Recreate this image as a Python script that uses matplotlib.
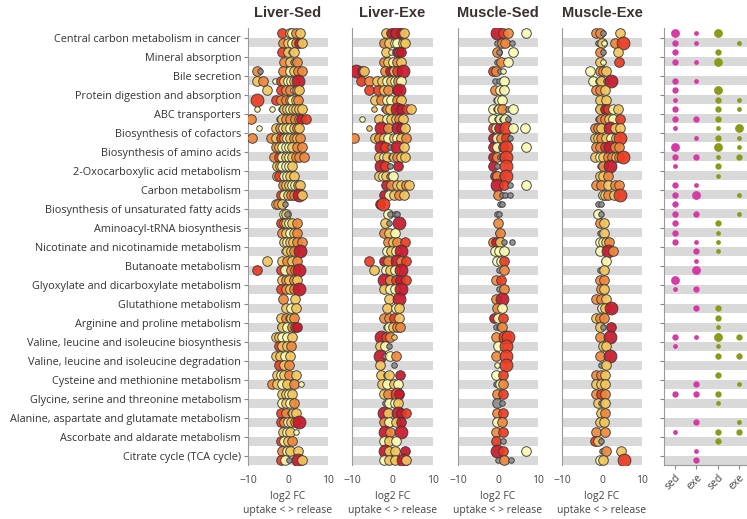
import matplotlib.pyplot as plt

pathways = [
    "Central carbon metabolism in cancer", "Mineral absorption", "Bile secretion",
    "Protein digestion and absorption", "ABC transporters", "Biosynthesis of cofactors",
    "Biosynthesis of amino acids", "2-Oxocarboxylic acid metabolism", "Carbon metabolism",
    "Biosynthesis of unsaturated fatty acids", "Aminoacyl-tRNA biosynthesis",
    "Nicotinate and nicotinamide metabolism", "Butanoate metabolism",
    "Glyoxylate and dicarboxylate metabolism", "Glutathione metabolism",
    "Arginine and proline metabolism", "Valine, leucine and isoleucine biosynthesis",
    "Valine, leucine and isoleucine degradation", "Cysteine and methionine metabolism",
    "Glycine, serine and threonine metabolism", "Alanine, aspartate and glutamate metabolism",
    "Ascorbate and aldarate metabolism", "Citrate cycle (TCA cycle)",
]
panel_titles = ["Liver-Sed", "Liver-Exe", "Muscle-Sed", "Muscle-Exe"]

# each point: "<log2FC><colour><size>", colour y/g/o/r/d = low..high, k = grey
# (upper sub-row, lower sub-row) per pathway
liver_sed = [
    ("-1.4r2 0.2k1 0.6g2 1.0y2 2.1o2 3.0g2", "-1.2o2 -0.1g2 0.9y2 2.0o2 2.8d2 3.5g2"),
    ("-1.5r2 0.0g2 0.8y1 1.4g2", "-1.1o2 0.4g2 1.3k1 2.2o2"),
    ("-7.7o2 -7.0k1 -1.2o2 0.5y2 1.5g2 2.4o2 3.6o2", "-7.7g2 -6.2o2 -3.3y1 -1.8r2 -1.0g2 0.0y2 0.8y2 1.4g2 2.5d3"),
    ("-5.3g2 -1.8r2 -0.5o2 0.4o2 1.3y1 2.2o2 2.8g2", "-7.8r3 -3.1r2 -1.7o2 -0.5o2 0.5o2 1.1y2 2.0g2 2.5o2"),
    ("-7.8y1 -3.9y1 -1.8k1 -1.0g2 -0.2g2 0.5y2 1.3g2 2.0g2 2.8g2 3.6g2",
     "-9.2o2 -2.3k1 -1.6g2 -0.6o2 0.6o2 1.8o2 2.7o2 3.3d2 4.4r2"),
    ("-7.3y1 -3.1g2 -2.0o2 -1.2y2 -0.4g2 0.4y2 1.4g2 2.2o2 2.8g2",
     "-9.0o2 -4.3o2 -3.0g2 -1.8r2 -1.0o2 -0.2y2 0.6g2 1.4o2 2.2g2 2.9o2"),
    ("-3.0o2 -2.2g2 -1.4y2 -0.6y2 0.2y2 1.0g2 2.3o2 3.4o2",
     "-3.5o2 -2.3r2 -1.4y2 -0.6g2 0.2y2 1.0g2 1.9o2 2.8o2 4.0o2"),
    ("-2.8g2 -2.0g2 -1.4y2 -0.6y2 0.2y2 1.0g2", "-2.8g2 -2.2r2 -1.0y2 -0.2y2 0.6g2 1.4g2"),
    ("-1.3o2 -0.4g2 0.3g2 1.0y2 1.8y2 2.4o2 2.9g2", "-1.8r2 -1.0y2 0.0g2 0.8o2 1.6o2 2.8d3 3.4g2"),
    ("-3.0g2 -2.4o2 -1.4g2 -0.8k1", "-1.0y2 -0.6g2 -0.2k1"),
    ("-1.7r2 -1.0o2 -0.4g2 0.3y2 1.1g2 2.2o2", "-1.4o2 -0.4g2 0.5y2 1.4g2 2.3o2"),
    ("-1.0g2 -0.3y2 0.5g2 1.3g2 2.2o2 3.4o2", "-1.0y1 -0.2g2 0.8g2 1.5o2 3.0d3"),
    ("-5.3g2 -1.4g2 -0.2o2 1.0g2 2.2o2", "-7.8r2 -1.8r2 -0.8y2 0.8o2 1.8o2 2.8d3"),
    ("-1.4g2 -0.6o2 0.3g2 1.5o2 2.3g2", "-1.8r2 -0.6o2 0.5g2 1.5o2 2.8d3"),
    ("-1.2o2 1.8g2", "-0.6g2 0.8y2 1.9g2"),
    ("-1.8g2 -0.6o2 0.0k1 0.8g2 1.6o2", "-2.0k1 -1.4g2 -0.2y2 0.9o2 1.8r2 2.2d2"),
    ("-3.0g2 -2.2g2 -1.4y2 -0.3y2 1.0g2", "-2.3r2 -1.4g2 -0.2g2 0.7o2"),
    ("-3.0g2 -2.0g2 -0.8y2 0.6g2", "-2.3r2 -1.0g2 0.2o2"),
    ("-2.7g2 -1.8y2 -1.0g2 0.2o2 1.9g2", "-3.9o2 -2.7g2 -1.4y2 -0.2g2 1.5o2 3.2y1"),
    ("-1.4g2 -0.6g2 0.2y2 1.0g2", "-1.4y2 -0.6g2 0.6y2 1.5o2"),
    ("-1.8r2 -0.6o2 0.5k1 1.2g2 2.0g2", "-1.8r2 -1.0o2 0.0y2 0.8g2 1.8o2 2.8d3"),
    ("-1.2g2 -0.2y2 0.6g2 1.9y1", "-1.8r2 -1.0y2 0.0g2 1.0o2"),
    ("-1.5o2 -0.3y2 0.6g2 2.5g2", "-1.8r2 -0.8y2 0.2k1 2.6d3 3.4g2"),
]
liver_exe = [
    ("-1.7g2 -0.3d2 0.5g2 1.2d3 2.2d2 2.9g2", "-2.1o2 -0.8g2 0.6y2 1.2y2 2.5g2 3.1g2"),
    ("-1.6g2 -0.3y1 1.0d2 1.6r2 2.2d2", "-2.0o2 -1.2g2 0.0y2 1.2o2 2.0g2"),
    ("-9.0d3 -7.6d2 -7.0g2 -1.8o2 -0.5d2 0.3g2 1.2r2 2.6d3",
     "-7.9r2 -5.8o2 -3.8g2 -2.5g2 -1.3y2 -0.4g2 0.5y2 1.3o2 2.2y2"),
    ("-5.8r2 -3.6r2 -2.0g2 -1.0o2 1.0r2 1.6d3", "-4.4g2 -2.9o2 -1.4y2 -0.4y2 1.0o2 2.1g2"),
    ("-4.6g1 -2.1k1 -1.3o2 -0.5g2 1.2d3 2.0d2 3.5r2 4.6g2", "-7.5y1 -3.3g2 -1.3y2 -0.3g2 0.8g2 1.6o2 2.5g2"),
    ("-5.8g1 -2.9d3 -1.7k1 -1.0o2 1.3d3 2.2d2 3.2g2",
     "-9.6o2 -4.2g2 -3.3o2 -2.1g2 -1.0y2 0.4g2 1.2y2 2.2g2 3.3o2"),
    ("-2.8d3 -1.8r2 -0.5k1 1.2d3 2.8g2", "-3.3g2 -2.1y2 -1.3g2 -0.4k1 0.4g2 1.2o2 2.1g2 3.2g2"),
    ("-2.9d3 -1.8r2 -0.5k1 1.4d2", "-3.3g2 -2.4y2 -1.6g2 -0.8k1 0.0y2"),
    ("-1.7d2 -0.4o2 1.0g2 2.2g2 3.3o2 4.0g2", "-2.0d2 -0.8y2 0.4g2 1.6o2 2.9g2"),
    ("-3.2d2 -2.4r3", "-1.2y2 -0.6k1 0.5k1 1.2k1"),
    ("-1.8g2 -0.8k1 1.6d3", "-2.0o2 -0.8g2 0.5y2"),
    ("-1.2o2 0.0g2 1.2o2 3.0r2", "-1.4y2 -0.4g2 0.8y2 2.1d3"),
    ("-5.8r2 -2.1d2 -1.0o2 1.0d3 2.2o2 3.4r2", "-4.6g2 -1.6y2 -0.6g2 0.5y2 2.2d3"),
    ("-2.0d3 -0.6o2 0.8r2 1.8d2 3.4r2", "-2.0g2 -0.6y2 0.5y2 2.1d3"),
    ("-0.8g2 1.7d3", "-1.3g2 0.8y2 1.7g2"),
    ("-2.0o2 -0.8o2 0.4r2 1.6g2", "-1.6k1 -0.8y2 0.2g2 1.0o2 1.8o2"),
    ("-2.9d3 -1.6r2 -0.6o2 0.4g1", "-3.0g2 -1.8y2 -0.8k1"),
    ("-3.0d3 -1.8k1 -0.6y2 0.9o2", "-3.0g2 0.4k1"),
    ("-2.8g2 -1.6k1 -0.8g2 1.8d2", "-2.5g2 -1.3y2 0.4g2 1.3y2"),
    ("-2.0g2 -1.0o2 1.0r3 1.7d2", "-1.8k1 -0.8y2 0.5y2 1.3g2"),
    ("-2.0d3 -1.0g2 1.3d3 2.2d2 3.4r2", "-2.0o2 -0.8y2 0.8g2 2.1d2"),
    ("-1.8d3 -0.6o2 2.0d3", "-2.0y2 -0.8g2 0.8y2"),
    ("-1.8d3 -0.8g2 0.6g2 3.2d2", "-2.0y2 -0.8g2 0.6g2 2.5d3 3.3g2"),
]
muscle_sed = [
    ("-0.3d3 1.3r2 2.5o2 6.9y2", "-0.3k1 0.9o2 1.7o2 3.4k1"),
    ("-0.3o2 0.3k1 3.8y2", "-0.3k1 0.8o2 2.6y2"),
    ("-1.2r2 -0.5o2 0.4k1 1.2y1", "-0.8k1 0.2k1 1.5y2"),
    ("-0.7o2 0.5y2 0.9d1 1.5y2", "-0.5k1 0.2y2 1.0y2"),
    ("-1.2y2 -0.4d1 0.2y2 1.0o2 2.6k1 3.8y2", "-1.2y2 -0.3k1 0.4y2 1.0k1 1.8y2 2.6k1"),
    ("-1.2r2 -0.6y2 0.2d2 2.1r3 3.8y2 6.8y2", "-1.2d2 -0.3y2 0.8o2 2.1r2 3.0k1"),
    ("-1.2d2 -0.6k1 -0.2y2 1.2r2 2.1r3 6.9y2", "-1.2d2 -0.3o2 0.4k1 1.0k1 2.1r3"),
    ("-1.2d2 -0.3k1 2.1r3", "-0.8d2 -0.3o2 0.9k1 2.1r3"),
    ("-0.3d3 1.4r2 3.0k1 6.9y2", "0.1o2 1.0k1 1.8k1 3.0k1"),
    ("0.5k1 1.0k1", "-0.2k1 0.3k1"),
    ("0.1o2", "0.1d1 0.5o2"),
    ("-1.2o2 -0.6d2 0.6g2 1.4k1 3.4k1", "-0.7y2 0.2y2 1.6y2"),
    ("-0.2y2 0.8y2 1.4r2", "0.3k1 1.6o2"),
    ("-0.6o2 0.8r2", "0.2k1 1.6o2"),
    ("-0.6o2 0.9d3", "-0.2o2 0.9y2"),
    ("-1.1d2 0.1y2 1.3r2", "-0.6k1 0.2k1 0.9o2"),
    ("-0.6o2 1.7r3 2.6r3", "0.1y2 2.1r3"),
    ("-0.6o2 2.1r3", "-0.3y1 2.1r3"),
    ("-0.6y2 1.3r2", "-0.6k1 0.6y2 1.3o2"),
    ("-0.3o2 1.3r2", "-0.3k2 0.9k1"),
    ("-0.3o2 1.3r2", "-0.3y2 0.9o2"),
    ("-0.6o2 1.3r2", "-0.6r2 1.3k1"),
    ("-0.3d3 1.2r2 7.0y2", "0.1k1 1.6o2 3.2k1"),
]
muscle_exe = [
    ("-1.4o2 -0.6o2 0.3k1 4.6g2", "-1.0k1 0.0g2 0.5y1 3.2o2 5.2r3"),
    ("-0.6o2 0.3k1 4.0g2", "-0.6g2 0.2y1 4.2r2"),
    ("-3.1y2 -0.6o2 0.3o2 1.1g2", "-2.2y2 -1.0k1 -0.2g2 1.1k1 2.2d3"),
    ("-1.4o2 -0.6o2 0.8g2", "-0.6g2 1.0g2"),
    ("-1.0k1 -0.4g2 0.8d2 1.5r2 2.8y2 4.0g2", "-1.0k1 -0.2o2 0.8o2 1.8g2 2.8y2 4.4r2"),
    ("-1.8o2 -1.0o2 -0.2g2 2.0d3 3.2g2 4.4g2", "-1.8g2 -1.0g2 -0.2o2 1.0g2 2.3y2 3.5g2 4.4r3"),
    ("-1.4o2 -0.6o2 0.8r2 1.9d3 3.2o2 4.2o2", "-1.8g2 -0.6y2 0.3g2 1.5o2 2.4o2 3.4g2 4.2o2 5.2r3"),
    ("-0.6k1 0.3o2 1.9d3", "-0.6g2 0.3g2 1.5o2"),
    ("-1.4o2 -0.2o2 1.5g2 3.2o2 4.2o2", "-0.3k1 0.3y2 0.8g2 1.6o2 3.0g2 4.4r3"),
    ("-1.0k1 -0.2k1", "-1.0y2 -0.2k1"),
    ("-0.6o2 0.6g2", "-0.6k1 0.6g2"),
    ("-0.6y2 0.3y2 1.0g2 1.8o2", "-0.6y2 1.6d3 2.8o2"),
    ("0.6o1 0.9y2", "-0.6k1 0.6g2"),
    ("-0.6o2 0.6o2", "-0.3o2 0.6g2"),
    ("-1.4o2 -0.2o2 1.0g2", "-0.6k1 0.0y2 0.8g2 2.2d3"),
    ("-1.4g2 -0.6o2 0.6o2", "-0.6g2 0.3k1 2.3d2"),
    ("-0.6o2 1.9d3", "0.3g2 1.1g2"),
    ("-0.6o2 1.9d3", "-0.2k1 1.1g2"),
    ("-1.4o2 -0.2o2 0.7g2", "-1.4g2 -0.2g2 0.7g2"),
    ("-1.4o2 -0.2r2 0.7o2", "-1.0g2 -0.2k1 0.7g2"),
    ("-0.2g2 0.7o2", "-0.6g2 0.6g2"),
    ("-1.4o2 0.7o2", "-1.8r2 -1.0g2 -0.2k1"),
    ("-0.1k1 0.9o2 4.8g2", "-0.5y2 0.3g2 5.6r3"),
]
panels = [liver_sed, liver_exe, muscle_sed, muscle_exe]

# right panel: dot size class per pathway, (upper, lower) rows
summary_cols = ["sed", "exe", "sed", "exe"]
summary = [
    ([3, 1, 3, 0], [2, 1, 0, 1]),
    ([2, 0, 2, 0], [2, 1, 3, 0]),
    ([0, 0, 0, 0], [2, 1, 0, 0]),
    ([2, 0, 3, 0], [1, 0, 2, 1]),
    ([2, 0, 2, 1], [2, 2, 2, 0]),
    ([1, 0, 1, 3], [0, 1, 2, 1]),
    ([3, 0, 3, 1], [2, 2, 1, 2]),
    ([1, 0, 2, 0], [0, 0, 1, 0]),
    ([2, 1, 0, 0], [2, 3, 0, 1]),
    ([2, 0, 0, 0], [2, 2, 0, 1]),
    ([2, 0, 2, 0], [2, 0, 1, 0]),
    ([2, 1, 1, 0], [0, 2, 1, 0]),
    ([0, 1, 0, 0], [0, 3, 0, 0]),
    ([3, 0, 0, 0], [1, 2, 0, 0]),
    ([0, 0, 0, 0], [0, 2, 2, 0]),
    ([0, 0, 2, 0], [0, 0, 1, 0]),
    ([2, 1, 3, 2], [1, 0, 1, 0]),
    ([0, 0, 2, 2], [0, 0, 0, 0]),
    ([0, 0, 2, 0], [0, 2, 0, 1]),
    ([2, 2, 2, 0], [0, 0, 1, 0]),
    ([0, 0, 0, 0], [0, 2, 0, 1]),
    ([1, 0, 2, 2], [0, 0, 2, 0]),
    ([0, 1, 0, 0], [0, 2, 0, 0]),
]

fill = {"y": "#fbfbb0", "g": "#f4c55a", "o": "#f0883a", "r": "#ec3b22", "d": "#c7182c", "k": "#8c8c8c"}
dot_area = {"1": 16, "2": 48, "3": 85}
sum_area = {1: 12, 2: 21, 3: 40}
sum_color = ["#d43ba4", "#d43ba4", "#8c9a1c", "#8c9a1c"]

W, H = 747, 519
n = len(pathways)
fig = plt.figure(figsize=(W / 100, H / 100), dpi=100)


def add_px_axes(x0, x1, top=28.5, bottom=465):
    return fig.add_axes([x0 / W, (H - bottom) / H, (x1 - x0) / W, (bottom - top) / H])


def style_axes(ax):
    ax.set_ylim(n - 0.5, -0.5)
    for i in range(n):
        ax.axhspan(i, i + 0.5, color="#d9d9d9", lw=0, zorder=0)
    for s in ["top", "right", "bottom"]:
        ax.spines[s].set_visible(False)
    ax.spines["left"].set_color("#9a9a9a")
    ax.set_yticks(range(n))
    ax.tick_params(colors="#444444", labelsize=7.5)


bounds = [(248, 328), (352, 433), (458, 538), (562, 642)]
for k, (data, title) in enumerate(zip(panels, panel_titles)):
    ax = add_px_axes(*bounds[k])
    style_axes(ax)
    ax.set_xlim(-10, 10)
    for i, (up, low) in enumerate(data):
        for off, grp in [(-0.25, up), (0.25, low)]:
            for tok in grp.split():
                x, c, s = float(tok[:-2]), tok[-2], tok[-1]
                ax.scatter(x, i + off, s=dot_area[s], c=fill[c], edgecolors="#3a3a3a",
                           linewidths=0.7, alpha=0.92, zorder=3)
    ax.set_xticks([-10, 0, 10])
    ax.tick_params(axis="x", length=0, pad=7)
    ax.set_xlabel("log2 FC\nuptake < > release", fontsize=7.5, color="#444444",
                  linespacing=1.35, labelpad=4)
    if k == 0:
        ax.set_yticklabels(pathways, fontsize=7.8, color="#333333")
        ax.tick_params(axis="y", length=3, pad=2, color="#888888")
    else:
        ax.set_yticklabels([])
        ax.tick_params(axis="y", length=0)
    ax.set_title(title, fontsize=10.5, fontweight="bold", color="#3a3030",
                 family="Liberation Sans", pad=8)

ax5 = add_px_axes(664, 747)
style_axes(ax5)
ax5.spines["bottom"].set_visible(True)
ax5.spines["bottom"].set_color("#9a9a9a")
ax5.set_xlim(-0.52, 3.38)
for i, (up, low) in enumerate(summary):
    for off, row in [(-0.25, up), (0.25, low)]:
        for j, v in enumerate(row):
            if v:
                ax5.scatter(j, i + off, s=sum_area[v], c=sum_color[j], linewidths=0, zorder=3)
ax5.set_yticklabels([])
ax5.tick_params(axis="y", length=3, color="#888888")
ax5.set_xticks(range(4))
ax5.set_xticklabels(summary_cols, rotation=45, fontsize=7.5, color="#444444",
                    ha="right", rotation_mode="anchor")
ax5.tick_params(axis="x", length=3, color="#888888", pad=2)

for a in fig.axes:
    for t in a.get_xticklabels() + a.get_yticklabels():
        t.set_family("Open Sans")
    a.xaxis.label.set_family("Open Sans")

fig.savefig("out.png", dpi=100)
